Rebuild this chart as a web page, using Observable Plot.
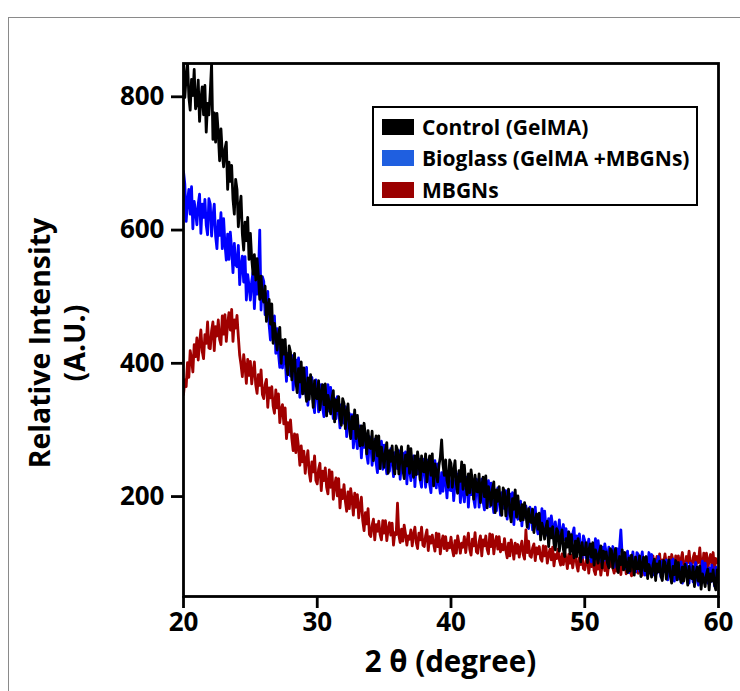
<!DOCTYPE html>
<html><head><meta charset="utf-8">
<script src="https://cdn.jsdelivr.net/npm/d3@7"></script>
<script src="https://cdn.jsdelivr.net/npm/@observablehq/plot@0.6"></script>
<style>
body{margin:0;background:#fff;font-family:"Open Sans",Lato,sans-serif;}
#wrap{position:relative;width:740px;height:691px;overflow:hidden;background:#fff;}
#border{position:absolute;left:8px;top:17px;width:800px;height:760px;border:1.5px solid #8a8a8a;}
#chart{position:absolute;left:0;top:0;}
#ylab{position:absolute;left:57px;top:343px;transform:translate(-50%,-50%) rotate(-90deg);white-space:nowrap;text-align:center;font-weight:bold;font-size:28.5px;line-height:35px;color:#000;}
#xlab{position:absolute;left:250px;width:401px;top:645px;text-align:center;font-weight:bold;font-size:29.5px;line-height:32px;color:#000;}
#legend{position:absolute;left:372px;top:106px;width:322px;height:96px;border:2.5px solid #000;background:#fff;box-sizing:content-box;}
.row{position:absolute;left:8px;height:30px;display:flex;align-items:center;font-weight:bold;font-size:21px;color:#000;white-space:nowrap;}
.sw{width:32px;height:16px;margin-right:8px;flex:none;}
</style></head>
<body>
<div id="wrap">
<div id="border"></div>
<div id="chart"></div>
<div id="ylab">Relative Intensity<br>(A.U.)</div>
<div id="xlab">2 θ (degree)</div>
<div id="legend"></div>
</div>
<script>
// x grid: 20° to 60° in steps of 0.1° (one row = 1°)
const xStart = 20, xStep = 0.1;
const xTicks = [20, 30, 40, 50, 60];
const yTicks = [200, 400, 600, 800];
const seriesNames = ["Control (GelMA)", "Bioglass (GelMA +MBGNs)", "MBGNs"];
const lineColors = ["#000000", "#0000ff", "#a00000"];
const swatchColors = ["#000000", "#1f5fe0", "#9a0000"];

const control = [
851,799,831,853,800,780,826,802,841,782,
790,825,763,796,815,773,817,747,790,773,
807,850,736,776,732,775,746,704,752,715,
695,722,732,661,702,673,697,646,624,676,
661,605,633,651,594,570,612,584,619,556,
595,557,534,563,525,557,531,496,531,499,
492,516,463,485,496,459,489,430,460,443,
420,444,454,400,435,414,436,398,383,426,
417,375,400,415,373,356,392,372,402,354,
393,361,343,378,346,383,363,334,374,348,
347,374,330,354,368,338,369,321,352,340,
324,348,359,312,345,329,350,318,307,347,
340,302,325,339,303,287,320,302,330,287,
322,293,276,306,277,310,291,264,299,274,
272,298,254,278,291,261,291,242,274,261,
244,269,281,235,269,253,276,245,234,276,
270,234,259,275,241,227,262,246,276,235,
272,244,229,261,233,267,250,225,261,238,
237,264,222,247,261,232,264,216,249,237,
222,247,259,285,248,232,255,224,214,255,
250,214,238,254,219,205,239,223,252,211,
247,219,203,234,206,240,222,196,232,208,
207,234,191,215,229,200,231,183,215,203,
187,212,222,176,210,193,215,184,172,213,
207,171,195,211,176,162,197,181,210,169,
201,177,164,188,165,191,175,154,182,163,
161,181,146,164,174,151,175,135,160,150,
136,154,163,125,152,138,155,129,120,152,
147,118,137,150,121,110,137,124,147,114,
143,120,108,133,110,137,123,102,131,113,
113,131,101,118,129,109,131,97,120,112,
100,117,126,93,118,107,117,100,93,122,
119,93,110,122,96,86,110,98,120,90,
116,96,86,108,88,112,100,82,109,92,
92,111,80,98,109,89,110,77,98,90,
79,97,106,74,99,87,103,81,74,104,
101,76,93,105,80,70,95,83,104,75,
101,81,71,94,73,98,86,67,95,78,
77,95,65,84,94,73,96,61,84,76,
65,83,91,60,84,73,90,68,60,90,
72];

const bioglass = [
688,669,613,643,661,624,665,602,643,628,
608,639,654,595,639,619,646,607,593,647,
639,591,620,639,591,572,614,592,626,572,
617,579,555,594,556,597,571,536,580,548,
545,577,518,546,561,522,560,495,533,516,
495,523,537,482,523,504,529,600,480,530,
523,473,495,508,458,435,469,443,471,415,
452,415,394,429,393,431,407,373,415,384,
381,412,360,388,405,370,408,349,387,373,
355,381,394,337,376,355,379,341,326,375,
363,327,352,368,334,320,354,339,368,328,
364,335,317,347,317,350,331,303,338,312,
310,335,290,313,325,294,323,273,304,290,
272,296,306,258,291,274,295,263,250,290,
283,247,270,286,251,236,270,254,283,241,
277,250,234,266,238,272,255,230,266,243,
242,269,226,251,265,236,267,219,252,240,
224,249,261,215,249,234,256,225,214,256,
250,214,238,255,220,206,240,224,254,213,
249,221,205,236,208,242,224,198,234,210,
209,236,194,219,234,206,237,191,222,208,
192,217,229,184,218,203,226,196,184,226,
220,184,209,226,192,180,211,196,224,185,
220,192,176,207,179,213,196,172,206,183,
182,209,166,192,204,175,206,158,190,178,
166,185,193,156,183,169,186,161,152,184,
179,150,170,184,156,144,171,159,182,149,
178,155,142,167,144,171,156,136,162,145,
144,165,130,149,158,135,152,127,147,139,
126,144,153,115,141,128,144,118,108,141,
134,108,125,136,111,102,127,115,137,108,
134,113,103,124,104,129,116,99,124,108,
107,125,94,112,122,102,123,150,111,104,
92,110,118,86,111,100,117,94,87,116,
113,88,105,117,92,82,106,95,116,87,
113,92,82,104,85,110,97,79,103,88,
87,105,75,93,104,84,106,73,95,87,
76,94,102,70,95,84,100,78,70,100,
97,72,90,101,76,67,92,81,103,73,
100,80,70,93,72,97,85,66,94,77,
80];

const mbgns = [
353,375,365,401,379,419,407,387,428,410,
438,405,431,450,418,407,443,430,462,423,
422,449,462,419,455,441,465,436,428,471,
444,473,433,459,476,450,481,433,465,453,
472,440,412,398,380,413,395,370,406,382,
403,369,388,402,368,355,383,367,390,353,
347,368,376,334,363,348,365,336,325,360,
333,354,311,330,338,309,333,287,311,297,
315,287,269,294,266,293,274,247,276,252,
268,235,255,269,236,223,252,237,261,224,
219,241,250,209,238,224,243,214,204,240,
214,237,196,217,228,201,227,183,210,197,
218,193,178,207,182,212,196,172,205,184,
203,168,186,199,164,149,176,159,182,143,
140,157,166,135,158,148,163,143,135,164,
145,164,134,151,161,142,160,127,146,143,
190,142,131,151,133,157,144,127,141,136,
150,126,143,154,131,122,145,135,154,127,
125,141,150,119,140,130,142,129,118,145,
125,144,114,131,141,122,140,119,130,123,
139,121,111,134,115,141,129,115,130,124,
140,116,133,145,121,112,136,126,146,117,
115,132,141,111,135,126,141,121,114,144,
125,143,114,131,140,121,140,117,128,120,
137,119,108,130,111,135,123,106,130,115,
128,109,123,133,113,106,150,116,133,111,
109,123,129,104,123,114,125,107,103,126,
111,125,100,113,121,105,124,96,113,107,
121,105,97,114,98,117,107,92,113,100,
112,93,107,116,97,88,108,98,115,92,
90,103,110,85,104,95,107,89,83,106,
91,106,82,96,105,89,109,82,100,95,
109,93,85,103,88,107,97,83,104,91,
103,84,98,108,88,81,101,92,109,87,
85,99,106,82,102,94,107,91,85,110,
96,111,87,101,110,95,114,87,105,100,
114,98,90,109,94,113,104,89,111,99,
111,92,106,116,96,89,110,101,118,96,
94,108,115,90,110,101,123,97,91,115,
100,115,91,105,113,98,116,89,107,101,
100];

const seriesValues = [control, bioglass, mbgns];
const rows = [];
seriesValues.forEach((vals, k) => vals.forEach((v, i) => rows.push({x: xStart + i * xStep, y: v, s: seriesNames[k]})));

const drawOrder = ["MBGNs", "Bioglass (GelMA +MBGNs)", "Control (GelMA)"];
const chart = Plot.plot({
  width: 740, height: 691,
  marginLeft: 183, marginRight: 22, marginTop: 63, marginBottom: 95,
  style: {fontFamily: "'Open Sans', Lato, sans-serif", fontWeight: "bold", fontSize: "26px", color: "#000", background: "transparent", overflow: "visible"},
  x: {domain: [20, 60]},
  y: {domain: [50, 850]},
  color: {domain: seriesNames, range: lineColors},
  marks: [
    ...drawOrder.map(name => Plot.line(rows.filter(d => d.s === name), {x: "x", y: "y", stroke: "s", strokeWidth: 2.8, clip: true})),
    Plot.frame({stroke: "#000", strokeWidth: 2.8}),
    Plot.axisX({ticks: xTicks, tickSize: 12, tickPadding: 4, label: null, strokeWidth: 2.8}),
    Plot.axisY({ticks: yTicks, tickSize: 12, tickPadding: 7, label: null, strokeWidth: 2.8})
  ]
});
document.getElementById("chart").appendChild(chart);

const legend = document.getElementById("legend");
const rowTops = [4, 35, 67];
seriesNames.forEach((n, i) => {
  const r = document.createElement("div");
  r.className = "row";
  r.style.top = rowTops[i] + "px";
  const sw = document.createElement("div");
  sw.className = "sw";
  sw.style.background = swatchColors[i];
  const t = document.createElement("span");
  t.textContent = n;
  r.appendChild(sw); r.appendChild(t);
  legend.appendChild(r);
});
</script>
</body></html>
